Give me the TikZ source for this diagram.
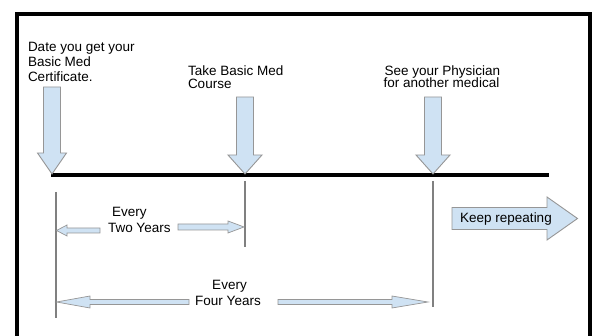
\documentclass[tikz,border=0pt]{standalone}
\usepackage{fontspec}
\setmainfont{Liberation Sans}
\definecolor{arrowfill}{RGB}{207,226,243}
\definecolor{arrowedge}{RGB}{150,150,150}
\definecolor{tickgray}{RGB}{128,128,128}
\begin{document}
\begin{tikzpicture}[x=1pt,y=-1pt,
  lbl/.style={inner sep=0pt,outer sep=0pt,font=\fontsize{13.5}{14.5}\selectfont,text=black},
  blockarrow/.style={fill=arrowfill,draw=arrowedge,line width=0.9pt,line join=miter},
  tick/.style={draw=tickgray,line width=1.3pt},
  frame/.style={line width=4pt,draw=black},
  timeline/.style={line width=3.5pt,draw=black}]
\useasboundingbox (0,0) rectangle (595,336);
% frame (open at the bottom)
\draw[frame] (17,338) -- (17,14.5) -- (590,14.5) -- (590,338);
% timeline
\coordinate (tl0) at (51,175);
\coordinate (tl1) at (549,175);
\coordinate (m1) at (52,175);
\coordinate (m2) at (245,175);
\coordinate (m3) at (433,175);
\draw[timeline] (tl0) -- (tl1);
% down arrows
\draw[blockarrow] (52,174) -- (37.5,153) -- (43.5,153) -- (43.5,87) -- (60.5,87) -- (60.5,153) -- (66.5,153) -- cycle;
\draw[blockarrow] (245,174) -- (228,155) -- (236.5,155) -- (236.5,97) -- (253.5,97) -- (253.5,155) -- (262,155) -- cycle;
\draw[blockarrow] (433,174) -- (416,155) -- (424.5,155) -- (424.5,97) -- (441.5,97) -- (441.5,155) -- (450,155) -- cycle;
% vertical ticks
\coordinate (v1a) at (56,192);  \coordinate (v1b) at (56,318);
\coordinate (v2a) at (245,181); \coordinate (v2b) at (245,247);
\coordinate (v3a) at (433,181); \coordinate (v3b) at (433,307);
\draw[tick] (v1a) -- (v1b);
\draw[tick] (v2a) -- (v2b);
\draw[tick] (v3a) -- (v3b);
% two-year arrows
\draw[blockarrow,line width=0.7pt] (56.5,230.5) -- (67,225) -- (67,228) -- (100,228) -- (100,233) -- (67,233) -- (67,236) -- cycle;
\draw[blockarrow,line width=0.7pt] (244,227) -- (228,221) -- (228,224) -- (178,224) -- (178,230) -- (228,230) -- (228,233) -- cycle;
% four-year arrows
\draw[blockarrow,line width=0.7pt] (56.5,302) -- (90,296) -- (90,299.5) -- (189,299.5) -- (189,304.5) -- (90,304.5) -- (90,308) -- cycle;
\draw[blockarrow,line width=0.7pt] (428,302) -- (392,296) -- (392,299.5) -- (278,299.5) -- (278,304.5) -- (392,304.5) -- (392,308) -- cycle;
% keep repeating arrow
\draw[blockarrow] (577.5,218.5) -- (547,197) -- (547,207.5) -- (452,207.5) -- (452,229.5) -- (547,229.5) -- (547,240) -- cycle;
% labels
\node[lbl,anchor=base west] (d1) at (28,52) {Date you get your};
\node[lbl,anchor=base west] (d2) at (28,67) {Basic Med};
\node[lbl,anchor=base west] (d3) at (28,82) {Certificate.};
\node[lbl,anchor=base west] (c1) at (188,76) {Take Basic Med};
\node[lbl,anchor=base west] (c2) at (188,89) {Course};
\node[lbl,anchor=base] (p1) at (442.5,76) {See your Physician};
\node[lbl,anchor=base] (p2) at (441.5,88) {for another medical};
\node[lbl,anchor=base west] (e1) at (112,217) {Every};
\node[lbl,anchor=base west] (e2) at (108,233) {Two Years};
\node[lbl,anchor=base] (f1) at (229.5,290) {Every};
\node[lbl,anchor=base] (f2) at (228,306) {Four Years};
\node[lbl,anchor=base] (k) at (506,222.5) {Keep repeating};
\end{tikzpicture}
\end{document}
